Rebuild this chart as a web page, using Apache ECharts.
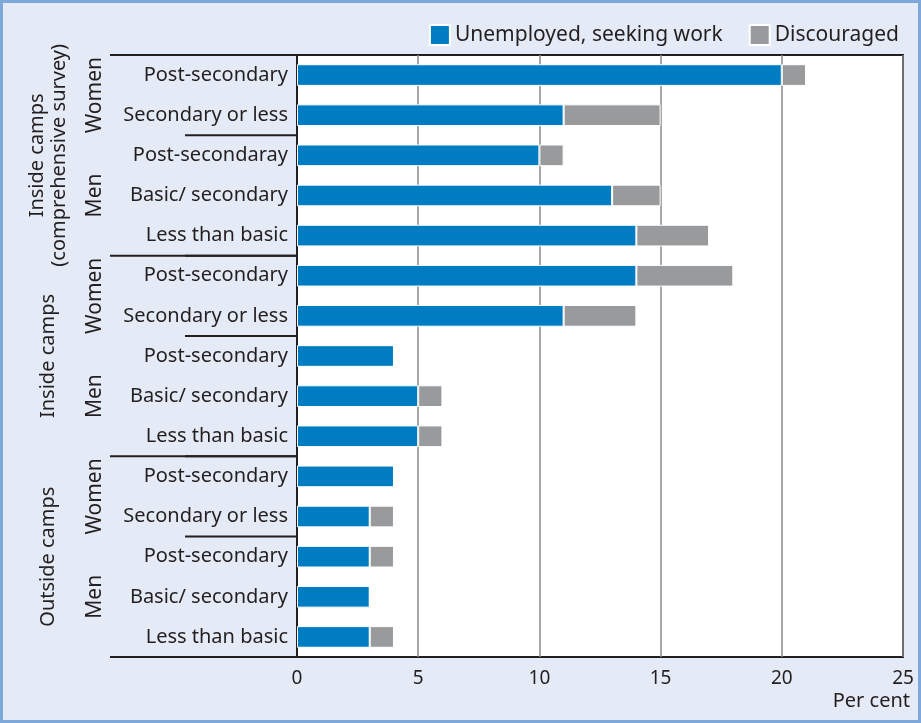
<!DOCTYPE html>
<html>
<head>
<meta charset="utf-8">
<script src="https://cdn.jsdelivr.net/npm/echarts@6/dist/echarts.min.js"></script>
<style>
  html, body { margin: 0; padding: 0; background: #fff; }
  #chart {
    width: 921px;
    height: 723px;
    box-sizing: border-box;
    border: 3px solid #7ea8d9;
    background: #e5ebf6;
  }
</style>
</head>
<body>
<div id="chart"></div>
<script>
// Categories, top to bottom
const categories = [
  'Post-secondary', 'Secondary or less',
  'Post-secondaray', 'Basic/ secondary', 'Less than basic',
  'Post-secondary', 'Secondary or less',
  'Post-secondary', 'Basic/ secondary', 'Less than basic',
  'Post-secondary', 'Secondary or less',
  'Post-secondary', 'Basic/ secondary', 'Less than basic'
]
const unemployed = [20, 11, 10, 13, 14, 14, 11, 4, 5, 5, 4, 3, 3, 3, 3]
const discouraged = [1, 4, 1, 2, 3, 4, 3, 0, 1, 1, 0, 1, 1, 0, 1]
const xTicks = [0, 5, 10, 15, 20, 25]

// Grouping: [first row, last row, label]
const sexGroups = [[0, 1, 'Women'], [2, 4, 'Men'], [5, 6, 'Women'], [7, 9, 'Men'], [10, 11, 'Women'], [12, 14, 'Men']]
const placeGroups = [[0, 4, 'Inside camps\n(comprehensive survey)'], [5, 9, 'Inside camps'], [10, 14, 'Outside camps']]

const FONT = '"Noto Sans", sans-serif'
const TEXT = '#231f20'

const chart = echarts.init(document.getElementById('chart'))

chart.setOption({
  animation: false,
  textStyle: { fontFamily: FONT },
  legend: {
    top: 16,
    right: 14,
    itemWidth: 20,
    itemHeight: 20,
    itemGap: 26,
    icon: 'rect',
    textStyle: { fontSize: 21, color: TEXT, fontFamily: FONT },
    data: ['Unemployed, seeking work', 'Discouraged']
  },
  grid: {
    left: 294,
    right: 15,
    top: 52,
    bottom: 63,
    show: true,
    backgroundColor: '#ffffff',
    borderColor: TEXT,
    borderWidth: 2
  },
  xAxis: {
    type: 'value',
    min: xTicks[0],
    max: xTicks[xTicks.length - 1],
    interval: 5,
    axisLine: { show: false },
    axisTick: { show: false },
    axisLabel: { fontSize: 19, color: TEXT, margin: 12, fontFamily: FONT },
    splitLine: { show: true, lineStyle: { color: '#8a8a8a', width: 1.5 } }
  },
  yAxis: {
    type: 'category',
    inverse: true,
    data: categories,
    axisLine: { show: true, lineStyle: { color: TEXT, width: 2 } },
    axisTick: { show: false },
    axisLabel: { fontSize: 20, color: TEXT, margin: 9, fontFamily: FONT }
  },
  series: [
    {
      name: 'Unemployed, seeking work',
      type: 'bar',
      stack: 'total',
      barWidth: '54%',
      data: unemployed,
      itemStyle: { color: '#007cc3', borderColor: '#ffffff', borderWidth: 1 }
    },
    {
      name: 'Discouraged',
      type: 'bar',
      stack: 'total',
      data: discouraged,
      itemStyle: { color: '#999a9c', borderColor: '#ffffff', borderWidth: 1 }
    }
  ]
})

// Group separators and rotated group labels, placed from the category axis
const rowY = i => chart.convertToPixel({ yAxisIndex: 0 }, i)
const band = rowY(1) - rowY(0)
const topOf = i => rowY(i) - band / 2
const bottomOf = i => rowY(i) + band / 2
const plotLeft = chart.convertToPixel({ xAxisIndex: 0 }, 0)

const graphics = []
sexGroups.forEach(([a, b, label]) => {
  graphics.push({
    type: 'line',
    shape: { x1: 182, y1: topOf(a), x2: plotLeft, y2: topOf(a) },
    style: { stroke: TEXT, lineWidth: 2 }
  })
  graphics.push({
    type: 'text',
    x: 92,
    y: (topOf(a) + bottomOf(b)) / 2,
    rotation: Math.PI / 2,
    style: { text: label, font: '21px ' + FONT, fill: TEXT, align: 'center', verticalAlign: 'middle' }
  })
})
placeGroups.forEach(([a, b, label]) => {
  graphics.push({
    type: 'line',
    shape: { x1: 107, y1: topOf(a), x2: plotLeft, y2: topOf(a) },
    style: { stroke: TEXT, lineWidth: 2 }
  })
  graphics.push({
    type: 'text',
    x: 45,
    y: (topOf(a) + bottomOf(b)) / 2,
    rotation: Math.PI / 2,
    style: { text: label, font: '20px ' + FONT, fill: TEXT, align: 'center', verticalAlign: 'middle', lineHeight: 22 }
  })
})
// bottom line under the last group
graphics.push({
  type: 'line',
  shape: { x1: 107, y1: bottomOf(14), x2: plotLeft, y2: bottomOf(14) },
  style: { stroke: TEXT, lineWidth: 2 }
})
graphics.push({
  type: 'text',
  right: 8,
  top: 688,
  style: { text: 'Per cent', font: '20px ' + FONT, fill: TEXT }
})

chart.setOption({ graphic: graphics })
</script>
</body>
</html>
